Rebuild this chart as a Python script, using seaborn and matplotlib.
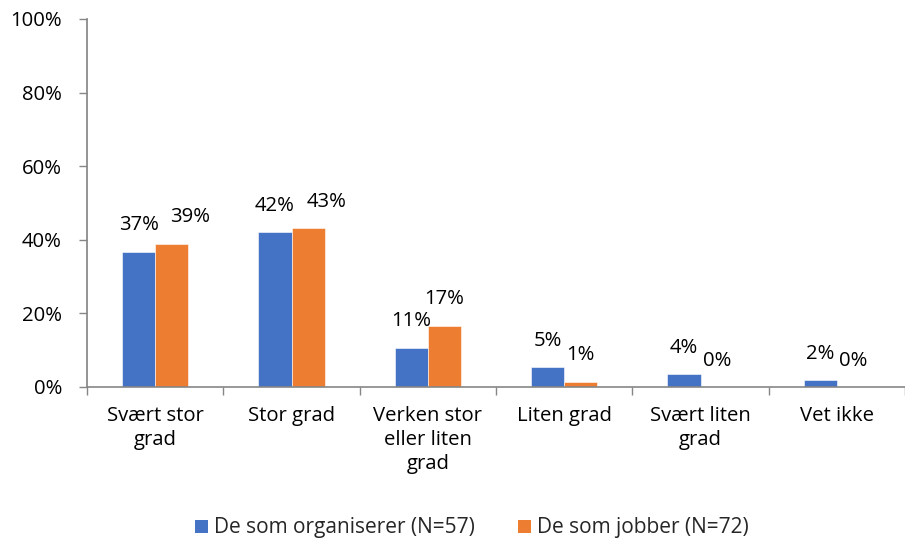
import matplotlib
matplotlib.use("Agg")
import matplotlib.pyplot as plt
import seaborn as sns
import pandas as pd
import numpy as np
from matplotlib.patches import Patch

categories = ["Svært stor\ngrad", "Stor grad", "Verken stor\neller liten\ngrad",
              "Liten grad", "Svært liten\ngrad", "Vet ikke"]
series_names = ["De som organiserer (N=57)", "De som jobber (N=72)"]
organiserer = [0.368, 0.421, 0.107, 0.053, 0.035, 0.018]
jobber = [0.389, 0.431, 0.167, 0.014, 0.0, 0.0]
yticks = [0, 0.2, 0.4, 0.6, 0.8, 1.0]
ytick_labels = ["0%", "20%", "40%", "60%", "80%", "100%"]
colors = ["#4472C4", "#ED7D31"]

df = pd.DataFrame({
    "cat": categories * 2,
    "series": [series_names[0]] * len(categories) + [series_names[1]] * len(categories),
    "value": organiserer + jobber,
})

sns.set_theme(style="white")
plt.rcParams["font.family"] = ["Open Sans", "DejaVu Sans"]
FS = 14.6

fig = plt.figure(figsize=(9.05, 5.43), dpi=100)
ax = fig.add_axes([87 / 905, 1 - 387 / 543, 1 - 87 / 905, (387 - 19) / 543])

sns.barplot(data=df, x="cat", y="value", hue="series", order=categories,
            hue_order=series_names, palette=colors, width=0.485, ax=ax,
            errorbar=None, legend=False, edgecolor="white", linewidth=0.4, saturation=1)

ax.set_xlim(-0.5, len(categories) - 0.5)
ax.set_ylim(0, 1.0)
ax.set_yticks(yticks)
ax.set_yticklabels(ytick_labels, fontsize=FS, color="#000000")
ax.set_xticks(range(len(categories)))
ax.set_xticklabels(categories, fontsize=FS, color="#000000", linespacing=1.25)
ax.set_xticks(np.arange(-0.5, len(categories), 1.0), minor=True)
ax.tick_params(axis="x", which="major", length=0, pad=14)
ax.tick_params(axis="x", which="minor", length=6, width=1, color="#868686", direction="out", bottom=True)
ax.tick_params(axis="y", length=6, width=1, color="#868686", direction="out", left=True, pad=12)
ax.set_xlabel("")
ax.set_ylabel("")
for s in ["top", "right"]:
    ax.spines[s].set_visible(False)
ax.spines["left"].set_color("#868686")
ax.spines["bottom"].set_color("#868686")
ax.spines["bottom"].set_linewidth(1.2)
ax.grid(False)

# data labels
containers = ax.containers
for si, cont in enumerate(containers):
    vals = organiserer if si == 0 else jobber
    other = jobber if si == 0 else organiserer
    for i, bar in enumerate(cont):
        v = vals[i]
        xc = bar.get_x() + bar.get_width() / 2
        dx = 0
        if si == 1 and abs(v - other[i]) < 0.05 and v > 0.1:
            dx = 13
        ax.annotate(f"{round(v * 100):.0f}%", (xc, v), xytext=(dx, 19),
                    textcoords="offset points", ha="center", va="center",
                    fontsize=FS, color="#000000")

handles = [Patch(facecolor=c, edgecolor="none") for c in colors]
fig.legend(handles, series_names, loc="center", bbox_to_anchor=(472 / 905, 1 - 528 / 543),
           ncol=2, frameon=False, fontsize=15, handlelength=0.6, handleheight=0.6,
           handletextpad=0.3, columnspacing=2.1)

fig.savefig("out.png", dpi=100)
